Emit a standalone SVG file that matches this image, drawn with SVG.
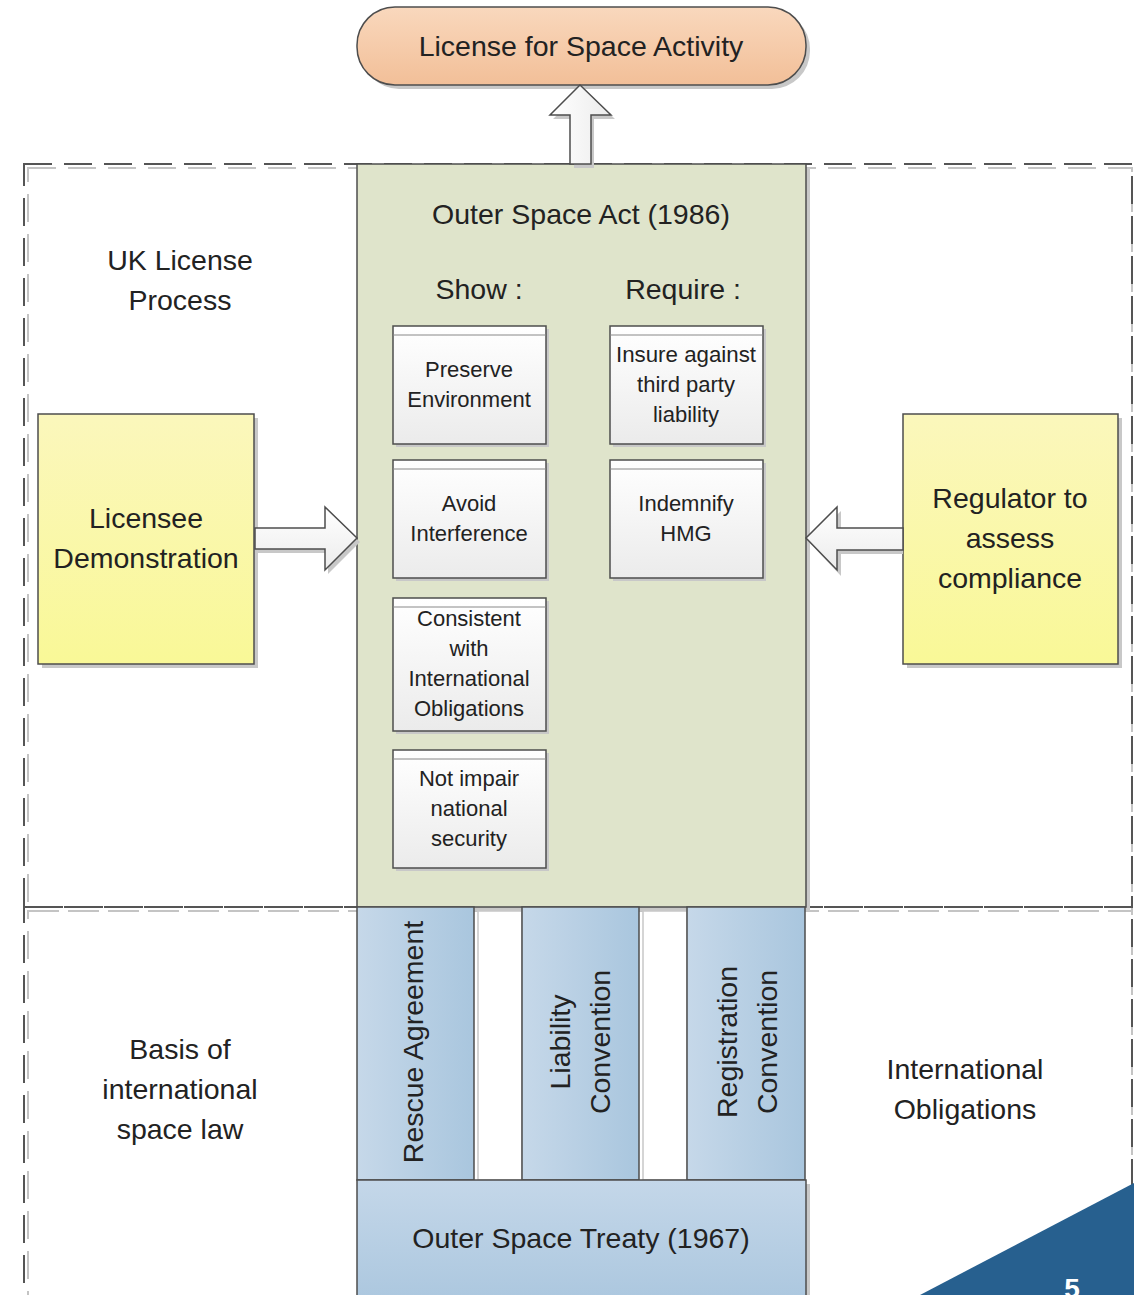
<svg xmlns="http://www.w3.org/2000/svg" width="1134" height="1295" viewBox="0 0 1134 1295">
<defs>
<linearGradient id="gPeach" x1="0" y1="0" x2="0" y2="1"><stop offset="0" stop-color="#f9d8bd"/><stop offset="1" stop-color="#f2bf98"/></linearGradient>
<linearGradient id="gYellow" x1="0" y1="0" x2="0" y2="1"><stop offset="0" stop-color="#fbf7bc"/><stop offset="1" stop-color="#f9f897"/></linearGradient>
<linearGradient id="gWhite" x1="0" y1="0" x2="0" y2="1"><stop offset="0" stop-color="#ffffff"/><stop offset="1" stop-color="#ebebeb"/></linearGradient>
<linearGradient id="gBlueH" x1="0" y1="0" x2="1" y2="0"><stop offset="0" stop-color="#c6d8e9"/><stop offset="1" stop-color="#a9c6de"/></linearGradient>
<linearGradient id="gBlueV" x1="0" y1="0" x2="0" y2="1"><stop offset="0" stop-color="#c4d7e9"/><stop offset="1" stop-color="#aac6de"/></linearGradient>
<linearGradient id="gArrowH" x1="0" y1="0" x2="0" y2="1"><stop offset="0" stop-color="#ffffff"/><stop offset="1" stop-color="#ececec"/></linearGradient>
<linearGradient id="gArrowV" x1="0" y1="0" x2="1" y2="0"><stop offset="0" stop-color="#ffffff"/><stop offset="1" stop-color="#ececec"/></linearGradient>
</defs>
<style>
.t{font-family:"Liberation Sans",Arial,sans-serif;fill:#222;text-anchor:middle}
.big{font-size:28.5px}
.sm{font-size:22px}
.edge{stroke:#4d4d4d;stroke-width:1.5}
.shadow{fill:#c8c8c8;stroke:none}
.dash{fill:none;stroke:#555;stroke-width:2;stroke-dasharray:28 12}
.dashS{fill:none;stroke:#c4c4c4;stroke-width:2;stroke-dasharray:28 12}
</style>
<rect width="1134" height="1295" fill="#ffffff"/>

<g id="regions">
<rect class="dashS" x="28" y="168" width="1104" height="743"/>
<rect class="dash" x="24" y="164" width="1108" height="743"/>
<rect class="dashS" x="28" y="911" width="1104" height="420"/>
<rect class="dash" x="24" y="907" width="1108" height="420"/>
</g>

<g id="pill-license">
<rect class="shadow" x="361" y="11" width="449" height="78" rx="38"/>
<rect x="357" y="7" width="449" height="78" rx="38" fill="url(#gPeach)" class="edge"/>
<text class="t big" x="581" y="56">License for Space Activity</text>
</g>

<g id="outer-space-act">
<rect class="shadow" x="361" y="168" width="449" height="743"/>
<rect x="357" y="164" width="449" height="743" fill="#dfe4cb" class="edge"/>
<text class="t big" x="581" y="224">Outer Space Act (1986)</text>
<text class="t big" x="479" y="299">Show :</text>
<text class="t big" x="683" y="299">Require :</text>
</g>

<g id="show-preserve">
<rect class="shadow" x="396" y="329" width="153" height="118"/>
<rect x="393" y="326" width="153" height="118" fill="url(#gWhite)" class="edge"/>
<line x1="393" y1="335" x2="546" y2="335" stroke="#888" stroke-width="1"/>
<text class="t sm" x="469" y="377">Preserve</text>
<text class="t sm" x="469" y="407">Environment</text>
</g>
<g id="show-avoid">
<rect class="shadow" x="396" y="463" width="153" height="118"/>
<rect x="393" y="460" width="153" height="118" fill="url(#gWhite)" class="edge"/>
<line x1="393" y1="469" x2="546" y2="469" stroke="#888" stroke-width="1"/>
<text class="t sm" x="469" y="511">Avoid</text>
<text class="t sm" x="469" y="541">Interference</text>
</g>
<g id="show-consistent">
<rect class="shadow" x="396" y="601" width="153" height="133"/>
<rect x="393" y="598" width="153" height="133" fill="url(#gWhite)" class="edge"/>
<line x1="393" y1="607" x2="546" y2="607" stroke="#888" stroke-width="1"/>
<text class="t sm" x="469" y="626">Consistent</text>
<text class="t sm" x="469" y="656">with</text>
<text class="t sm" x="469" y="686">International</text>
<text class="t sm" x="469" y="716">Obligations</text>
</g>
<g id="show-security">
<rect class="shadow" x="396" y="753" width="153" height="118"/>
<rect x="393" y="750" width="153" height="118" fill="url(#gWhite)" class="edge"/>
<line x1="393" y1="759" x2="546" y2="759" stroke="#888" stroke-width="1"/>
<text class="t sm" x="469" y="786">Not impair</text>
<text class="t sm" x="469" y="816">national</text>
<text class="t sm" x="469" y="846">security</text>
</g>
<g id="require-insure">
<rect class="shadow" x="613" y="329" width="153" height="118"/>
<rect x="610" y="326" width="153" height="118" fill="url(#gWhite)" class="edge"/>
<line x1="610" y1="335" x2="763" y2="335" stroke="#888" stroke-width="1"/>
<text class="t sm" x="686" y="362" textLength="140" lengthAdjust="spacingAndGlyphs">Insure against</text>
<text class="t sm" x="686" y="392">third party</text>
<text class="t sm" x="686" y="422">liability</text>
</g>
<g id="require-indemnify">
<rect class="shadow" x="613" y="463" width="153" height="118"/>
<rect x="610" y="460" width="153" height="118" fill="url(#gWhite)" class="edge"/>
<line x1="610" y1="469" x2="763" y2="469" stroke="#888" stroke-width="1"/>
<text class="t sm" x="686" y="511">Indemnify</text>
<text class="t sm" x="686" y="541">HMG</text>
</g>

<g id="label-uk">
<text class="t big" x="180" y="270">UK License</text>
<text class="t big" x="180" y="310">Process</text>
</g>

<g id="licensee">
<rect class="shadow" x="42" y="418" width="216" height="250"/>
<rect x="38" y="414" width="216" height="250" fill="url(#gYellow)" class="edge"/>
<text class="t big" x="146" y="528">Licensee</text>
<text class="t big" x="146" y="568">Demonstration</text>
</g>

<g id="regulator">
<rect class="shadow" x="907" y="418" width="215" height="250"/>
<rect x="903" y="414" width="215" height="250" fill="url(#gYellow)" class="edge"/>
<text class="t big" x="1010" y="508">Regulator to</text>
<text class="t big" x="1010" y="548">assess</text>
<text class="t big" x="1010" y="588">compliance</text>
</g>

<g id="connectors">
<polygon class="shadow" points="574,168 574,119 553,119 584,89 615,119 594,119 594,168"/>
<polygon points="570,164 570,115 550,115 580,85 611,115 591,115 591,164" fill="url(#gArrowV)" class="edge"/>
<polygon class="shadow" points="258,532 328,532 328,511 360,542 328,574 328,553 258,553"/>
<polygon points="255,528 325,528 325,507 357,538 325,570 325,549 255,549" fill="url(#gArrowH)" class="edge"/>
<polygon class="shadow" points="903,532 841,532 841,511 809,542 841,576 841,554 903,554"/>
<polygon points="903,528 837,528 837,507 806,538 837,570 837,550 903,550" fill="url(#gArrowH)" class="edge"/>
</g>

<g id="label-basis">
<text class="t big" x="180" y="1059">Basis of</text>
<text class="t big" x="180" y="1099">international</text>
<text class="t big" x="180" y="1139">space law</text>
</g>

<g id="label-intl">
<text class="t big" x="965" y="1079">International</text>
<text class="t big" x="965" y="1119">Obligations</text>
</g>

<g id="gaps">
<rect x="478" y="911" width="44" height="269" fill="#ffffff" stroke="#c8c8c8" stroke-width="1.5"/>
<rect x="643" y="911" width="44" height="269" fill="#ffffff" stroke="#c8c8c8" stroke-width="1.5"/>
</g>

<g id="rescue">
<rect x="357" y="907" width="117" height="273" fill="url(#gBlueH)" class="edge"/>
<text class="t big" transform="translate(413,1042) rotate(-90)" x="0" y="10">Rescue Agreement</text>
</g>
<g id="liability">
<rect x="522" y="907" width="117" height="273" fill="url(#gBlueH)" class="edge"/>
<text class="t big" transform="translate(560,1042) rotate(-90)" x="0" y="10">Liability</text>
<text class="t big" transform="translate(600,1042) rotate(-90)" x="0" y="10">Convention</text>
</g>
<g id="registration">
<rect x="687" y="907" width="118" height="273" fill="url(#gBlueH)" class="edge"/>
<text class="t big" transform="translate(727,1042) rotate(-90)" x="0" y="10">Registration</text>
<text class="t big" transform="translate(767,1042) rotate(-90)" x="0" y="10">Convention</text>
</g>

<g id="treaty">
<rect class="shadow" x="361" y="1184" width="449" height="130"/>
<rect x="357" y="1180" width="449" height="130" fill="url(#gBlueV)" class="edge"/>
<text class="t big" x="581" y="1248">Outer Space Treaty (1967)</text>
</g>

<g id="page-corner">
<polygon points="920,1295 1134,1183 1134,1295" fill="#27608f"/>
<text x="1072" y="1298" font-family="Liberation Sans,Arial,sans-serif" font-weight="bold" font-size="28" fill="#ffffff" text-anchor="middle">5</text>
</g>
</svg>
